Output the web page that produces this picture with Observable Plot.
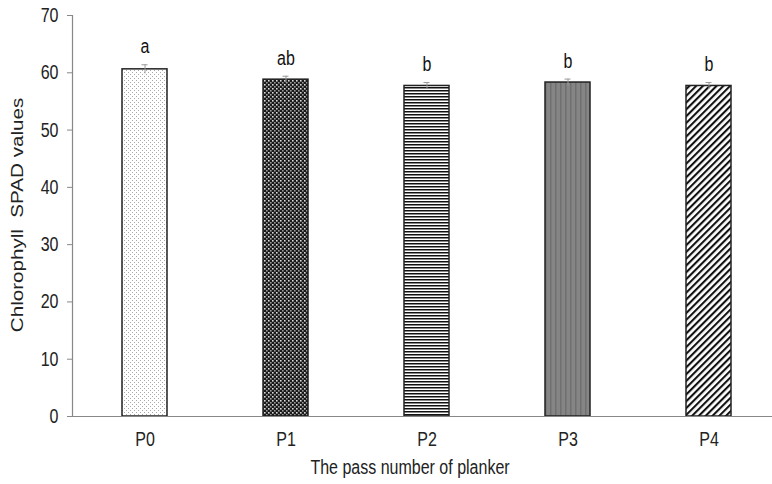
<!DOCTYPE html>
<html>
<head>
<meta charset="utf-8">
<script src="https://cdn.jsdelivr.net/npm/d3@7"></script>
<script src="https://cdn.jsdelivr.net/npm/@observablehq/plot@0.6"></script>
<style>
  html, body { margin: 0; padding: 0; background: #fff; overflow: hidden; }
  #defs { position: absolute; width: 0; height: 0; }
</style>
</head>
<body>
<svg id="defs" width="0" height="0">
  <defs>
    <pattern id="pat-P0" patternUnits="userSpaceOnUse" width="4" height="4">
      <rect width="4" height="4" fill="#fff"/>
      <rect x="0" y="0" width="1" height="1" fill="#a8a8a8"/>
      <rect x="2" y="2" width="1" height="1" fill="#a8a8a8"/>
    </pattern>
    <pattern id="pat-P1" patternUnits="userSpaceOnUse" width="4" height="4">
      <rect width="4" height="4" fill="#1a1a1a"/>
      <rect x="0" y="0" width="1.6" height="1.6" fill="#d8d8d8"/>
      <rect x="2" y="2" width="1.6" height="1.6" fill="#9a9a9a"/>
    </pattern>
    <pattern id="pat-P2" patternUnits="userSpaceOnUse" width="4" height="3">
      <rect width="4" height="3" fill="#fff"/>
      <rect x="0" y="0" width="4" height="1.5" fill="#111"/>
    </pattern>
    <pattern id="pat-P3" patternUnits="userSpaceOnUse" width="5" height="4">
      <rect width="5" height="4" fill="#858585"/>
      <rect x="0" y="0" width="1.5" height="4" fill="#707070"/>
    </pattern>
    <pattern id="pat-P4" patternUnits="userSpaceOnUse" width="4.8" height="4.8" patternTransform="rotate(45)">
      <rect width="4.8" height="4.8" fill="#fff"/>
      <rect x="0" y="0" width="2.1" height="4.8" fill="#111"/>
    </pattern>
  </defs>
</svg>
<div id="chart"></div>
<script>
const categories = ["P0", "P1", "P2", "P3", "P4"];
const means = [60.6, 58.8, 57.7, 58.3, 57.7];
const errors = [0.8, 0.6, 0.6, 0.6, 0.6];
const letters = ["a", "ab", "b", "b", "b"];
const yTicks = [0, 10, 20, 30, 40, 50, 60, 70];

const data = categories.map((c, i) => ({cat: c, v: means[i], e: errors[i], lab: letters[i]}));

const font = "'Liberation Sans', Arial, sans-serif";

const chart = Plot.plot({
  width: 772,
  height: 484,
  marginLeft: 72,
  marginRight: -9,
  marginTop: 15,
  marginBottom: 68,
  style: {fontFamily: font, fontSize: "16px", color: "#222", background: "#fff", overflow: "visible"},
  x: {domain: categories, paddingInner: 0.68, paddingOuter: 0.34, label: null},
  y: {domain: [0, 70], label: null},
  color: {type: "ordinal", domain: categories, range: categories.map(c => `url(#pat-${c})`)},
  marks: [
    Plot.barY(data, {x: "cat", y: "v", fill: "cat", stroke: "#222", strokeWidth: 1.5}),
    Plot.ruleX(data, {x: "cat", y1: d => d.v - d.e, y2: d => d.v + d.e, stroke: "#999", strokeWidth: 1}),
    Plot.tickY(data, {x: "cat", y: d => d.v + d.e, stroke: "#999", strokeWidth: 1, insetLeft: 19.5, insetRight: 19.5}),
    Plot.text(data, {x: "cat", y: d => d.v + d.e, text: "lab", dy: -18, fontSize: 16, fill: "#111"}),
    Plot.ruleY([0], {stroke: "#888", strokeWidth: 1.2}),
    Plot.frame({anchor: "left", stroke: "#888", strokeWidth: 1.2}),
    Plot.axisY({ticks: yTicks, tickSize: 5, tickPadding: 9, stroke: "#888", fontSize: 16, fill: "#222", label: null}),
    Plot.axisX({tickSize: 0, tickPadding: 17, fontSize: 16, fill: "#222", label: null}),
    Plot.text(["Chlorophyll  SPAD values"], {frameAnchor: "left", rotate: -90, textAnchor: "middle", lineAnchor: "middle", dx: -55, dy: -1, fontSize: 16.5, fill: "#222"}),
    Plot.text(["The pass number of planker"], {frameAnchor: "bottom", textAnchor: "middle", lineAnchor: "middle", dy: 51, dx: -17, fontSize: 16, fill: "#222"})
  ]
});
document.getElementById("chart").appendChild(chart);

// The reference's lettering looks vertically stretched (tall, narrow glyphs):
// stretch each text vertically about its own centre, in its parent's coordinates.
const stretch = 1.25;
const ns = "http://www.w3.org/2000/svg";
Array.from(chart.querySelectorAll("text")).forEach(el => {
  const parent = el.parentNode;
  const b = el.getBBox();
  const m = parent.getCTM().inverse().multiply(el.getCTM());
  const p = new DOMPoint(b.x + b.width / 2, b.y + b.height / 2).matrixTransform(m);
  const g = document.createElementNS(ns, "g");
  g.setAttribute("transform", `translate(${p.x},${p.y}) scale(1,${stretch}) translate(${-p.x},${-p.y})`);
  parent.insertBefore(g, el);
  g.appendChild(el);
});
</script>
</body>
</html>
